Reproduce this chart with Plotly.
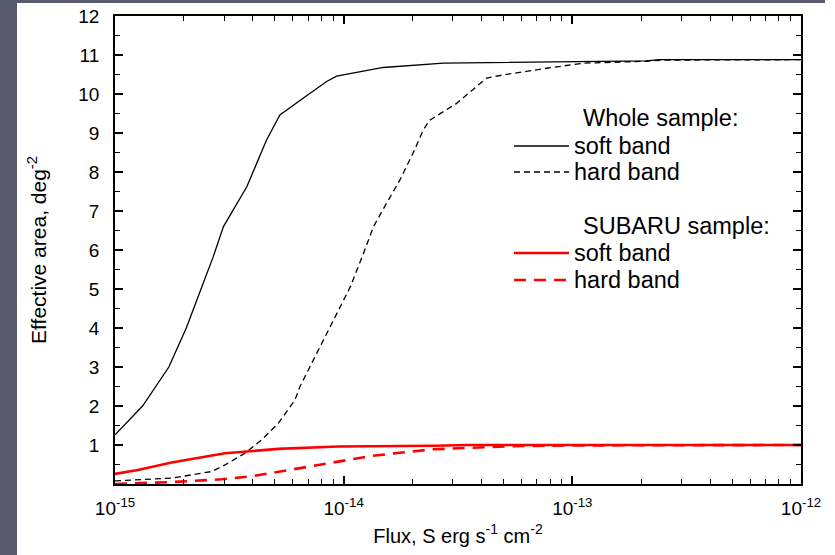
import plotly.graph_objects as go

# ---------------- data ----------------
whole_soft_flux = [1.00e-15, 1.32e-15, 1.72e-15, 2.05e-15, 2.36e-15, 2.69e-15, 2.98e-15,
                   3.77e-15, 4.60e-15, 5.26e-15, 7.13e-15, 8.43e-15, 9.31e-15, 1.14e-14,
                   1.49e-14, 2.73e-14, 6.50e-14, 2.10e-13, 2.40e-13, 1.00e-12]
whole_soft_area = [1.26, 2.00, 3.00, 4.00, 4.95, 5.83, 6.60,
                   7.62, 8.82, 9.46, 10.02, 10.32, 10.46, 10.55,
                   10.68, 10.79, 10.82, 10.85, 10.88, 10.88]

whole_hard_flux = [1.00e-15, 1.77e-15, 2.65e-15, 3.03e-15, 3.70e-15, 4.38e-15, 5.18e-15,
                   6.12e-15, 6.44e-15, 7.62e-15, 9.02e-15, 1.07e-14, 1.22e-14, 1.35e-14,
                   1.54e-14, 1.76e-14, 2.01e-14, 2.23e-14, 2.38e-14, 3.12e-14, 4.22e-14,
                   4.99e-14, 7.71e-14, 1.12e-13, 2.11e-13, 2.49e-13, 1.00e-12]
whole_hard_area = [0.08, 0.15, 0.32, 0.49, 0.79, 1.13, 1.56,
                   2.15, 2.50, 3.35, 4.21, 5.06, 5.91, 6.60,
                   7.20, 7.79, 8.48, 9.08, 9.33, 9.76, 10.41,
                   10.49, 10.66, 10.79, 10.84, 10.87, 10.88]

subaru_soft_flux = [1.00e-15, 1.26e-15, 1.77e-15, 3.03e-15, 5.18e-15, 9.46e-15, 2.51e-14,
                    3.50e-14, 1.00e-12]
subaru_soft_area = [0.26, 0.36, 0.55, 0.79, 0.90, 0.96, 0.98, 1.00, 1.00]

subaru_hard_flux = [1.00e-15, 1.77e-15, 2.93e-15, 3.96e-15, 5.53e-15, 8.87e-15, 1.32e-14,
                    2.45e-14, 3.45e-14, 5.52e-14, 1.08e-13, 1.00e-12]
subaru_hard_area = [0.00, 0.05, 0.12, 0.20, 0.34, 0.55, 0.72,
                    0.89, 0.93, 0.97, 0.99, 1.00]

x_tick_vals = [1e-15, 1e-14, 1e-13, 1e-12]
x_tick_text = ["10<sup>-15</sup>", "10<sup>-14</sup>", "10<sup>-13</sup>", "10<sup>-12</sup>"]
y_tick_vals = list(range(1, 13))

legend_titles = ["Whole sample:", "SUBARU sample:"]
legend_labels = ["soft band", "hard band", "soft band", "hard band"]

# ---------------- layout geometry ----------------
W, H = 835, 555
L, R, T, B = 115, 34, 16, 71
PW, PH = W - L - R, H - T - B
FONT = "Liberation Sans, Arial, sans-serif"
GRAY = "#575b6b"
RED = "#ff0000"


def px_x(p):
    return (p - L) / PW


def px_y(p):
    return (H - B - p) / PH


styles = [
    dict(color="black", width=1.3, dash="solid"),
    dict(color="black", width=1.3, dash="6px,4px"),
    dict(color=RED, width=2.6, dash="solid"),
    dict(color=RED, width=2.6, dash="12px,8px"),
]
series = [
    (whole_soft_flux, whole_soft_area),
    (whole_hard_flux, whole_hard_area),
    (subaru_soft_flux, subaru_soft_area),
    (subaru_hard_flux, subaru_hard_area),
]

fig = go.Figure()
for (fx, fy), st, lab in zip(series, styles, legend_labels):
    fig.add_trace(go.Scatter(x=fx, y=fy, mode="lines", name=lab,
                             line=dict(color=st["color"], width=st["width"], dash=st["dash"]),
                             showlegend=False))

# ---- legend drawn as annotations + sample lines ----
shapes = [
    dict(type="rect", xref="paper", yref="paper", x0=px_x(0), x1=px_x(17),
         y0=px_y(H), y1=px_y(0), fillcolor=GRAY, line=dict(width=0), layer="below"),
    dict(type="rect", xref="paper", yref="paper", x0=px_x(0), x1=px_x(825),
         y0=px_y(3), y1=px_y(0), fillcolor=GRAY, line=dict(width=0), layer="below"),
]
annotations = []
LEG_FONT = dict(family=FONT, size=23.5, color="black")
title_rows = [118, 226]
item_rows = [146, 172, 253, 280]
for t, yy in zip(legend_titles, title_rows):
    annotations.append(dict(text=t, xref="paper", yref="paper", x=px_x(581), y=px_y(yy),
                            xanchor="left", yanchor="middle", showarrow=False, font=LEG_FONT))
for lab, yy, st in zip(legend_labels, item_rows, styles):
    shapes.append(dict(type="line", xref="paper", yref="paper",
                       x0=px_x(514), x1=px_x(569), y0=px_y(yy), y1=px_y(yy),
                       line=dict(color=st["color"], width=st["width"], dash=st["dash"])))
    annotations.append(dict(text=lab, xref="paper", yref="paper", x=px_x(572), y=px_y(yy),
                            xanchor="left", yanchor="middle", showarrow=False, font=LEG_FONT))

fig.update_layout(
    width=W, height=H,
    margin=dict(l=L, r=R, t=T, b=B, autoexpand=False),
    paper_bgcolor="white", plot_bgcolor="white",
    font=dict(family=FONT, color="black", size=19),
    showlegend=False,
    shapes=shapes,
    annotations=annotations,
)

fig.update_xaxes(type="log", range=[-15, -12],
                 tickvals=x_tick_vals, ticktext=x_tick_text,
                 tickfont=dict(family=FONT, size=19), ticklabelstandoff=6,
                 ticks="inside", ticklen=8, tickwidth=1.5, tickcolor="black",
                 minor=dict(ticks="inside", ticklen=5, tickwidth=1.2, tickcolor="black",
                            dtick="D1", showgrid=False),
                 showline=True, linecolor="black", linewidth=1.8, mirror="allticks",
                 showgrid=False, zeroline=False,
                 title=dict(text="Flux, S erg s<sup>-1</sup> cm<sup>-2</sup>",
                            font=dict(family=FONT, size=20), standoff=11))
fig.update_yaxes(range=[0, 12], tickvals=y_tick_vals,
                 tickfont=dict(family=FONT, size=19), ticklabelstandoff=10,
                 ticks="inside", ticklen=8, tickwidth=1.5, tickcolor="black",
                 minor=dict(ticks="inside", ticklen=5, tickwidth=1.2, tickcolor="black",
                            dtick=0.5, showgrid=False),
                 showline=True, linecolor="black", linewidth=1.8, mirror="allticks",
                 showgrid=False, zeroline=False,
                 title=dict(text="Effective area, deg<sup>-2</sup>",
                            font=dict(family=FONT, size=21), standoff=26))

fig.write_html("out.html")
